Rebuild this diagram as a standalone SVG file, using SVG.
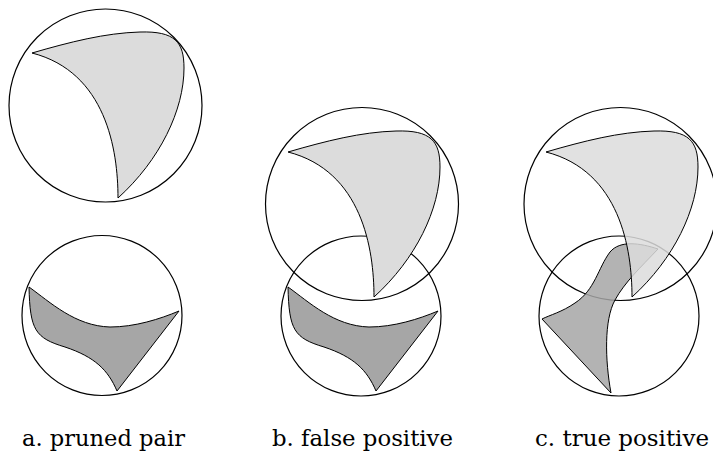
<svg xmlns="http://www.w3.org/2000/svg" width="713" height="454" viewBox="0 0 713 454">
<style>
.circ{fill:none;stroke:#000;stroke-width:1.2}
.light{fill:#dcdcdc;stroke:#000;stroke-width:1}
.dark{fill:#a6a6a6;stroke:#000;stroke-width:1}
.lbl{font-family:"DejaVu Serif","Liberation Serif",serif;font-size:22px;fill:#000}
</style>
<defs>
<path id="lightShape" d="M32,53 C70,42 105,33 140,32 C175,31 184,42 184,68 C184,110 160,160 118,198 C118,150 106,72 32,53 Z"/>
<path id="darkShape" d="M29,287 C50,302 75,326 110,327 C135,327 160,319 179,311 L117,391 C108,370 95,357 65,347 C35,338 30,330 29,287 Z"/>
</defs>
<g id="panel-a">
<circle class="circ" cx="105.5" cy="105.5" r="96.5"/>
<circle class="circ" cx="102" cy="315.5" r="80"/>
<use href="#darkShape" class="dark"/>
<use href="#lightShape" class="light"/>
<text class="lbl" x="22" y="446" textLength="163" lengthAdjust="spacingAndGlyphs">a. pruned pair</text>
</g>
<g id="panel-b">
<circle class="circ" cx="362" cy="204" r="96.5"/>
<circle class="circ" cx="361" cy="316" r="80"/>
<use href="#darkShape" class="dark" transform="translate(259,0)"/>
<use href="#lightShape" class="light" transform="translate(256,99)"/>
<text class="lbl" x="272" y="446" textLength="181" lengthAdjust="spacingAndGlyphs">b. false positive</text>
</g>
<g id="panel-c">
<circle class="circ" cx="620.5" cy="204" r="96.5"/>
<circle class="circ" cx="619" cy="316" r="80"/>
<path class="dark" fill-opacity="0.85" d="M542,319 L611,393 C605,360 604,320 615,300 C625,282 640,268 658,249 C640,243 620,240 610,252 C598,268 595,290 575,303 C562,312 550,315 542,319 Z"/>
<use href="#lightShape" class="light" fill-opacity="0.85" transform="translate(514,99)"/>
<text class="lbl" x="535" y="446" textLength="174" lengthAdjust="spacingAndGlyphs">c. true positive</text>
</g>
</svg>
